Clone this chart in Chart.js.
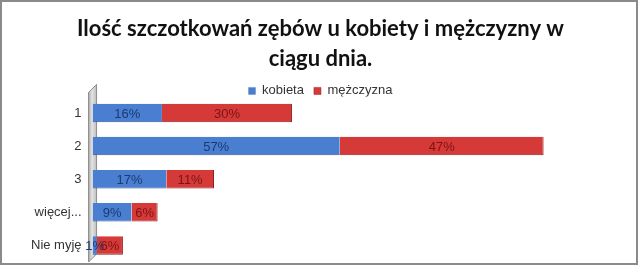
<!DOCTYPE html>
<html>
<head>
<meta charset="utf-8">
<script src="https://cdn.jsdelivr.net/npm/chart.js@4"></script>
<style>
  html, body { margin: 0; padding: 0; background: #fff; }
  #wrap { width: 640px; height: 266px; position: relative; }
</style>
</head>
<body>
<div id="wrap"><canvas id="brushChart" width="640" height="266"></canvas></div>
<script>
// chart data
const categories = ['1', '2', '3', 'więcej...', 'Nie myję'];
const kobieta = [16, 57, 17, 9, 1];
const mezczyzna = [30, 47, 11, 6, 6];
const seriesNames = ['kobieta', 'mężczyzna'];
const titleLines = ['Ilość szczotkowań zębów u kobiety i mężczyzny w', 'ciągu dnia.'];

const BLUE = '#4a7ed0';
const RED = '#d63a38';

// grey "3D" wall on the left of the plot + outer frame
const wallPlugin = {
    id: 'wall',
    afterInit(chart) {
        // legend takes less vertical room so the bars start right under it
        const legend = chart.legend;
        if (legend) {
            const fit = legend.fit;
            legend.fit = function() {
                fit.call(this);
                this.height = Math.max(0, this.height - 11);
            };
        }
    },
    beforeDatasetsDraw(chart) {
        const { ctx, chartArea } = chart;
        const x = chartArea.left;
        ctx.save();
        const g = ctx.createLinearGradient(x - 5, 0, x + 4, 0);
        g.addColorStop(0, '#9a9a9a');
        g.addColorStop(0.5, '#e4e4e4');
        g.addColorStop(1, '#bdbdbd');
        ctx.fillStyle = g;
        ctx.beginPath();
        ctx.moveTo(x - 4, chartArea.top - 4);
        ctx.lineTo(x + 4, chartArea.top - 12);
        ctx.lineTo(x + 4, chartArea.bottom - 8);
        ctx.lineTo(x - 4, chartArea.bottom);
        ctx.closePath();
        ctx.fill();
        ctx.strokeStyle = '#8c8c8c';
        ctx.lineWidth = 1;
        ctx.stroke();
        ctx.restore();
    },
    afterDraw(chart) {
        const { ctx, width, height } = chart;
        ctx.save();
        ctx.strokeStyle = '#8a8a8a';
        ctx.lineWidth = 2;
        ctx.strokeRect(1, 1, width - 4, height - 3);
        ctx.restore();
    }
};

// percentage labels inside each bar segment
const labelPlugin = {
    id: 'barLabels',
    afterDatasetsDraw(chart) {
        const { ctx } = chart;
        const colors = ['#1b3a72', '#7a1414'];
        ctx.save();
        ctx.font = '13px "Liberation Sans", Arial, sans-serif';
        ctx.textAlign = 'center';
        ctx.textBaseline = 'middle';
        chart.data.datasets.forEach(function(ds, i) {
            const meta = chart.getDatasetMeta(i);
            meta.data.forEach(function(bar, j) {
                ctx.fillStyle = colors[i];
                const cx = (bar.x + bar.base) / 2;
                ctx.fillText(ds.data[j] + '%', cx, bar.y + 1);
            });
        });
        ctx.restore();
    }
};

function initializeBrushChart() {
    const ctx = document.getElementById('brushChart').getContext('2d');
    new Chart(ctx, {
        type: 'bar',
        data: {
            labels: categories,
            datasets: [{
                label: seriesNames[0],
                data: kobieta,
                backgroundColor: BLUE,
                borderColor: '#2f5597',
                borderWidth: { bottom: 1, top: 0, left: 0, right: 0 },
                categoryPercentage: 0.56,
                barPercentage: 1
            }, {
                label: seriesNames[1],
                data: mezczyzna,
                backgroundColor: RED,
                borderColor: '#8e1f1d',
                borderWidth: { bottom: 1, top: 0, left: 0, right: 1 },
                categoryPercentage: 0.56,
                barPercentage: 1
            }]
        },
        options: {
            indexAxis: 'y',
            responsive: false,
            animation: false,
            layout: { padding: { left: 28, right: 27, top: 10, bottom: 4 } },
            scales: {
                x: {
                    stacked: true,
                    min: 0,
                    max: 120,
                    display: false
                },
                y: {
                    stacked: true,
                    grid: { display: false },
                    border: { display: false },
                    ticks: {
                        color: '#333',
                        padding: 3,
                        font: { family: 'Liberation Sans', size: 13 }
                    },
                    afterFit(scale) {
                        // no extra room above/below for the tick labels
                        scale.paddingTop = 0;
                        scale.paddingBottom = 0;
                    }
                }
            },
            plugins: {
                title: {
                    display: true,
                    text: titleLines,
                    color: '#111',
                    font: { family: 'Lato', size: 22, weight: 'bold', lineHeight: 1.35 },
                    padding: { top: 4, bottom: 1 }
                },
                legend: {
                    display: true,
                    labels: {
                        boxWidth: 7,
                        boxHeight: 7,
                        color: '#333',
                        padding: 10,
                        font: { family: 'Liberation Sans', size: 13 }
                    }
                },
                tooltip: { enabled: false }
            }
        },
        plugins: [wallPlugin, labelPlugin]
    });
}

document.addEventListener('DOMContentLoaded', function() {
    initializeBrushChart();
});
</script>
</body>
</html>
